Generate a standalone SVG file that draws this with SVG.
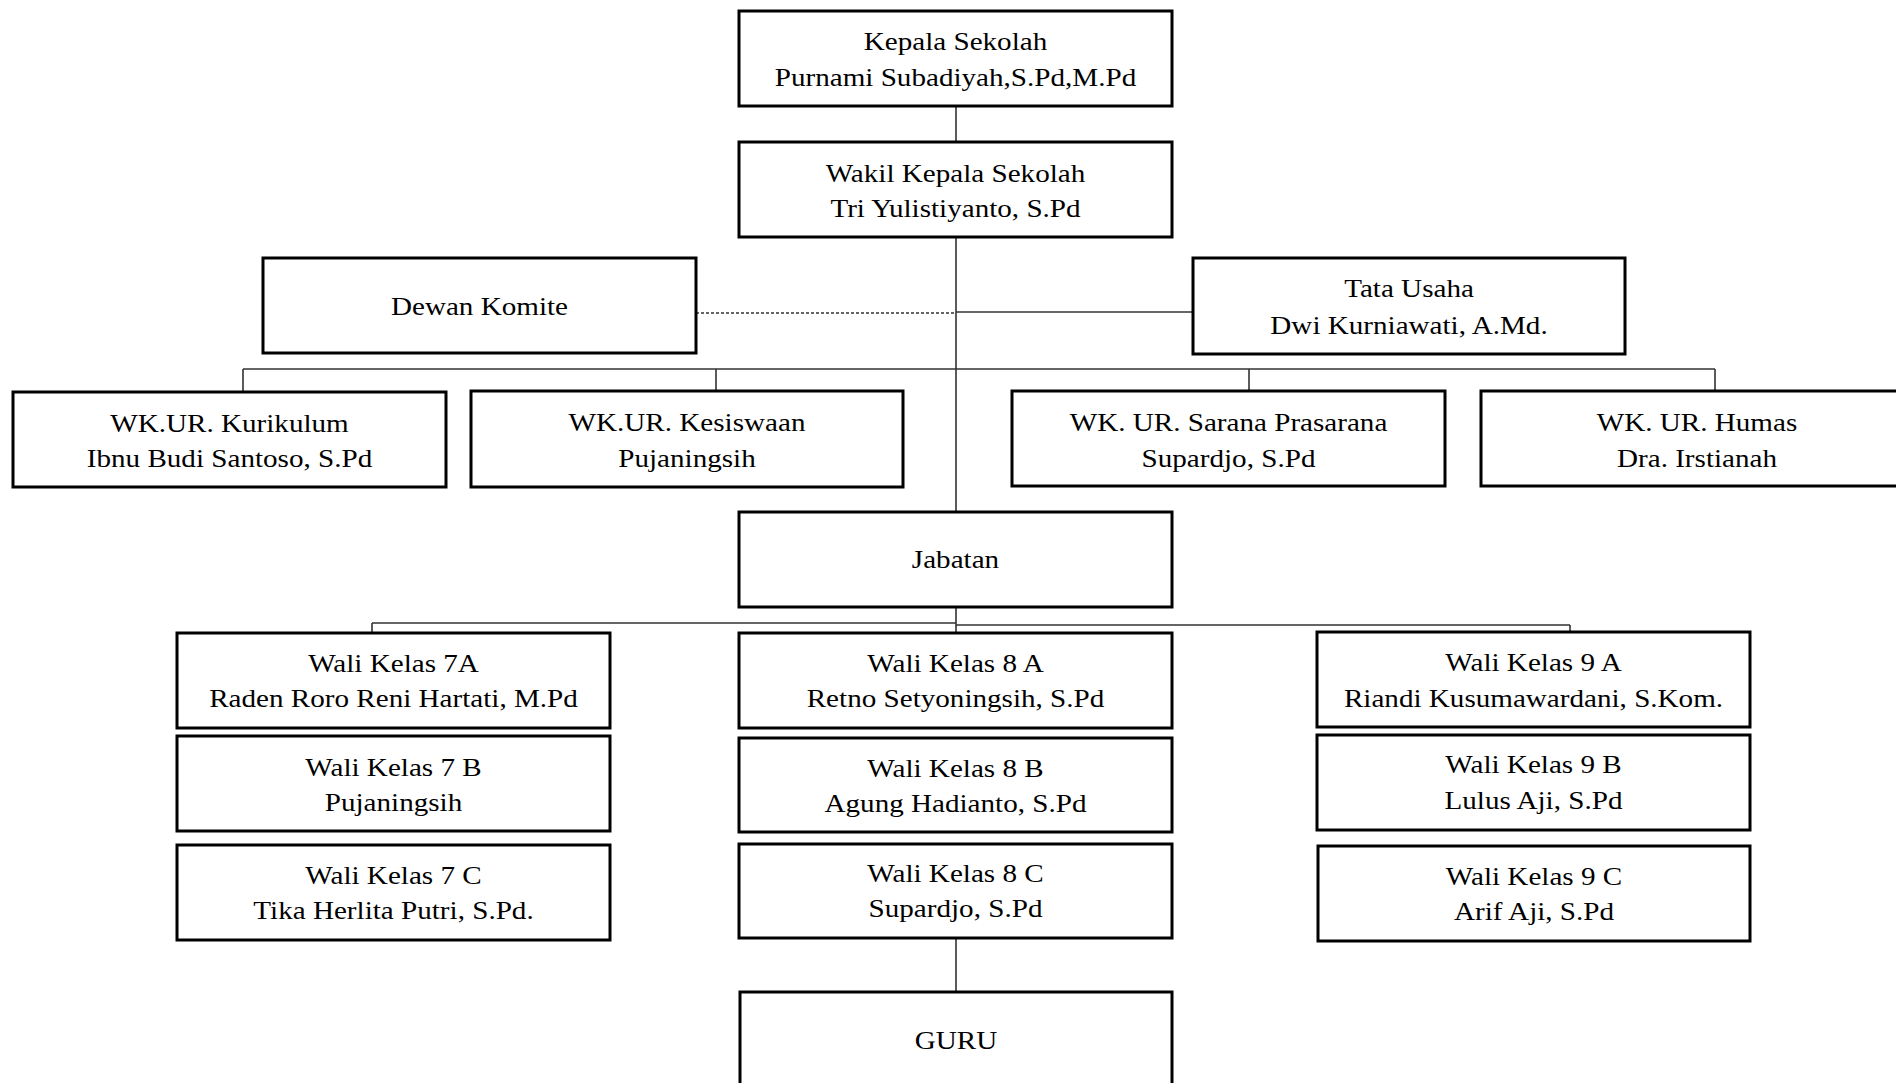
<svg xmlns="http://www.w3.org/2000/svg" width="1896" height="1083" viewBox="0 0 1896 1083">
<style>
.box{fill:#fff;stroke:#000;stroke-width:3}
.t{font-family:"Liberation Serif","Times New Roman",serif;font-size:26px;fill:#000;text-anchor:middle}
.c{stroke:#333;stroke-width:1.6;fill:none}
.d{stroke:#333;stroke-width:1.6;fill:none;stroke-dasharray:3 2}
</style>
<rect width="1896" height="1083" fill="#fff"/>
<g id="connectors">
<path class="c" d="M956 106V142M956 237V512M956 607V633M956 938V992"/>
<path class="d" d="M696 313H956"/>
<path class="c" d="M956 312H1193"/>
<path class="c" d="M243 369H1715M243 369V391M716 369V391M1249 369V391M1715 369V391"/>
<path class="c" d="M372 623H956M956 625H1570M372 623V633M1570 625V632"/>
</g>
<g id="kepala"><rect class="box" x="739" y="11" width="433" height="95"/>
<text class="t" transform="translate(955.5 50) scale(1.12 1)">Kepala Sekolah</text>
<text class="t" transform="translate(955.5 86) scale(1.12 1)">Purnami Subadiyah,S.Pd,M.Pd</text></g>
<g id="wakil"><rect class="box" x="739" y="142" width="433" height="95"/>
<text class="t" transform="translate(955.5 182) scale(1.12 1)">Wakil Kepala Sekolah</text>
<text class="t" transform="translate(955.5 217) scale(1.12 1)">Tri Yulistiyanto, S.Pd</text></g>
<g id="dewan"><rect class="box" x="263" y="258" width="433" height="95"/>
<text class="t" transform="translate(479.5 315) scale(1.12 1)">Dewan Komite</text></g>
<g id="tata"><rect class="box" x="1193" y="258" width="432" height="96"/>
<text class="t" transform="translate(1409 297) scale(1.12 1)">Tata Usaha</text>
<text class="t" transform="translate(1409 334) scale(1.12 1)">Dwi Kurniawati, A.Md.</text></g>
<g id="kurikulum"><rect class="box" x="13" y="392" width="433" height="95"/>
<text class="t" transform="translate(229.5 432) scale(1.12 1)">WK.UR. Kurikulum</text>
<text class="t" transform="translate(229.5 467) scale(1.12 1)">Ibnu Budi Santoso, S.Pd</text></g>
<g id="kesiswaan"><rect class="box" x="471" y="391" width="432" height="96"/>
<text class="t" transform="translate(687 431) scale(1.12 1)">WK.UR. Kesiswaan</text>
<text class="t" transform="translate(687 467) scale(1.12 1)">Pujaningsih</text></g>
<g id="sarana"><rect class="box" x="1012" y="391" width="433" height="95"/>
<text class="t" transform="translate(1228.5 431) scale(1.12 1)">WK. UR. Sarana Prasarana</text>
<text class="t" transform="translate(1228.5 467) scale(1.12 1)">Supardjo, S.Pd</text></g>
<g id="humas"><rect class="box" x="1481" y="391" width="433" height="95"/>
<text class="t" transform="translate(1697 431) scale(1.12 1)">WK. UR. Humas</text>
<text class="t" transform="translate(1697 467) scale(1.12 1)">Dra. Irstianah</text></g>
<g id="jabatan"><rect class="box" x="739" y="512" width="433" height="95"/>
<text class="t" transform="translate(955.5 568) scale(1.12 1)">Jabatan</text></g>
<g id="wk7a"><rect class="box" x="177" y="633" width="433" height="95"/>
<text class="t" transform="translate(393.5 672) scale(1.12 1)">Wali Kelas 7A</text>
<text class="t" transform="translate(393.5 707) scale(1.12 1)">Raden Roro Reni Hartati, M.Pd</text></g>
<g id="wk7b"><rect class="box" x="177" y="736" width="433" height="95"/>
<text class="t" transform="translate(393.5 776) scale(1.12 1)">Wali Kelas 7 B</text>
<text class="t" transform="translate(393.5 811) scale(1.12 1)">Pujaningsih</text></g>
<g id="wk7c"><rect class="box" x="177" y="845" width="433" height="95"/>
<text class="t" transform="translate(393.5 884) scale(1.12 1)">Wali Kelas 7 C</text>
<text class="t" transform="translate(393.5 919) scale(1.12 1)">Tika Herlita Putri, S.Pd.</text></g>
<g id="wk8a"><rect class="box" x="739" y="633" width="433" height="95"/>
<text class="t" transform="translate(955.5 672) scale(1.12 1)">Wali Kelas 8 A</text>
<text class="t" transform="translate(955.5 707) scale(1.12 1)">Retno Setyoningsih, S.Pd</text></g>
<g id="wk8b"><rect class="box" x="739" y="738" width="433" height="94"/>
<text class="t" transform="translate(955.5 777) scale(1.12 1)">Wali Kelas 8 B</text>
<text class="t" transform="translate(955.5 812) scale(1.12 1)">Agung Hadianto, S.Pd</text></g>
<g id="wk8c"><rect class="box" x="739" y="844" width="433" height="94"/>
<text class="t" transform="translate(955.5 882) scale(1.12 1)">Wali Kelas 8 C</text>
<text class="t" transform="translate(955.5 917) scale(1.12 1)">Supardjo, S.Pd</text></g>
<g id="wk9a"><rect class="box" x="1317" y="632" width="433" height="95"/>
<text class="t" transform="translate(1533.5 671) scale(1.12 1)">Wali Kelas 9 A</text>
<text class="t" transform="translate(1533.5 707) scale(1.12 1)">Riandi Kusumawardani, S.Kom.</text></g>
<g id="wk9b"><rect class="box" x="1317" y="735" width="433" height="95"/>
<text class="t" transform="translate(1533.5 773) scale(1.12 1)">Wali Kelas 9 B</text>
<text class="t" transform="translate(1533.5 809) scale(1.12 1)">Lulus Aji, S.Pd</text></g>
<g id="wk9c"><rect class="box" x="1318" y="846" width="432" height="95"/>
<text class="t" transform="translate(1534 885) scale(1.12 1)">Wali Kelas 9 C</text>
<text class="t" transform="translate(1534 920) scale(1.12 1)">Arif Aji, S.Pd</text></g>
<g id="guru"><rect class="box" x="740" y="992" width="432" height="95"/>
<text class="t" transform="translate(956 1049) scale(1.12 1)">GURU</text></g>
</svg>
